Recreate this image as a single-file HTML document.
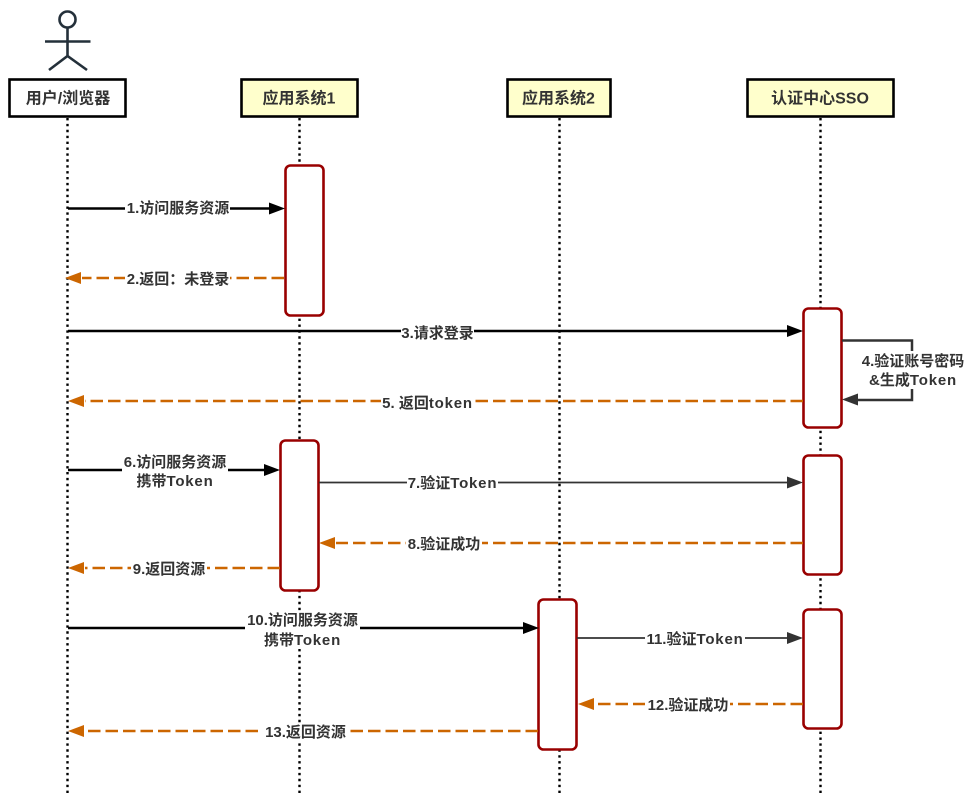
<!DOCTYPE html>
<html lang="zh">
<head>
<meta charset="utf-8">
<title>SSO 时序图</title>
<style>
html,body{margin:0;padding:0;background:#fff;width:974px;height:807px;overflow:hidden}
svg{display:block}
text{font-family:"Liberation Sans","Noto Sans CJK SC",sans-serif;font-weight:bold;font-size:15px;fill:#333;text-anchor:middle}
text.h{font-size:16px}
tspan.w{letter-spacing:.8px}
.life{stroke:#000;stroke-width:2.4;stroke-dasharray:2.4 3.5;fill:none}
.box{stroke:#000;stroke-width:2.6;fill:#ffc}
.act{stroke:#990000;stroke-width:2.6;fill:#fff}
.blk{stroke:#000;stroke-width:2.5;fill:none}
.gry{stroke:#333;stroke-width:1.8;fill:none}
.org{stroke:#CC6600;stroke-width:2.5;stroke-dasharray:12.5 5;fill:none}
.hb{fill:#000}.hg{fill:#333}.ho{fill:#CC6600}
</style>
</head>
<body>
<svg width="974" height="807" viewBox="0 0 974 807" xmlns="http://www.w3.org/2000/svg">
<rect width="974" height="807" fill="#fff"/>

<!-- actor -->
<g stroke="#24303a" stroke-width="2.6" fill="none">
<circle cx="67.5" cy="19.5" r="8"/>
<path d="M67.5 27.5V56M45 41.5H90.5M49 70L67.5 56L87 70"/>
</g>

<!-- lifelines -->
<path class="life" d="M67.5 118V795"/>
<path class="life" d="M299.5 118V795"/>
<path class="life" d="M559.5 118V795"/>
<path class="life" d="M820.5 118V795"/>

<!-- header boxes -->
<rect class="box" x="9.5" y="79.5" width="116" height="37" style="fill:#fff"/>
<rect class="box" x="241.5" y="79.5" width="116" height="37"/>
<rect class="box" x="507.5" y="79.5" width="103" height="37"/>
<rect class="box" x="747.5" y="79.5" width="146" height="37"/>
<text class="h" x="68" y="103.500">用户/浏览器</text>
<text class="h" x="299" y="103.500">应用系统1</text>
<text class="h" x="558.500" y="103.500">应用系统2</text>
<text class="h" x="820" y="103.500">认证中心SSO</text>

<!-- activations -->
<rect class="act" x="285.5" y="165.5" width="38" height="150" rx="5"/>
<rect class="act" x="803.5" y="308.5" width="38" height="119" rx="5"/>
<rect class="act" x="280.5" y="440.5" width="38" height="150" rx="5"/>
<rect class="act" x="803.5" y="455.5" width="38" height="119" rx="5"/>
<rect class="act" x="538.5" y="599.5" width="38" height="150" rx="5"/>
<rect class="act" x="803.5" y="609.5" width="38" height="119" rx="5"/>

<!-- 1 -->
<path class="blk" d="M68 208.500H270"/><polygon class="hb" points="285,208.500 269,202.500 269,214.500"/>
<rect x="125" y="200" width="105" height="17" fill="#fff"/>
<text x="178" y="213">1.访问服务资源</text>

<!-- 2 -->
<path class="org" d="M284 278H82"/><polygon class="ho" points="65,278 81,272 81,284"/>
<rect x="125" y="270" width="105" height="17" fill="#fff"/>
<text x="178" y="284">2.返回：未登录</text>

<!-- 3 -->
<path class="blk" d="M68 331H788"/><polygon class="hb" points="803,331 787,325 787,337"/>
<rect x="401" y="323" width="73" height="17" fill="#fff"/>
<text x="437.500" y="338">3.请求登录</text>

<!-- 4 self -->
<path d="M842 340.500H912V400H858" stroke="#333" stroke-width="2.500" fill="none"/>
<polygon class="hg" points="842,399.500 858,393.500 858,405.500"/>
<rect x="859" y="351" width="108" height="38" fill="#fff"/>
<text x="913" y="366">4.验证账号密码</text>
<text x="913" y="385">&amp;生成<tspan class="w">Token</tspan></text>

<!-- 5 -->
<path class="org" d="M803 401H85"/><polygon class="ho" points="68,401 84,395 84,407"/>
<rect x="381" y="394" width="93" height="17" fill="#fff"/>
<text x="427.500" y="408">5. 返回<tspan class="w">token</tspan></text>

<!-- 6 -->
<path class="blk" d="M68 470H265"/><polygon class="hb" points="280,470 264,464 264,476"/>
<rect x="122" y="454" width="106" height="34" fill="#fff"/>
<text x="175" y="467">6.访问服务资源</text>
<text x="175" y="486">携带<tspan class="w">Token</tspan></text>

<!-- 7 -->
<path class="gry" d="M319 482.500H788"/><polygon class="hg" points="803,482.500 787,476.500 787,488.500"/>
<rect x="407" y="475" width="91" height="17" fill="#fff"/>
<text x="452.500" y="488">7.验证<tspan class="w">Token</tspan></text>

<!-- 8 -->
<path class="org" d="M803 543H336"/><polygon class="ho" points="319,543 335,537 335,549"/>
<rect x="406" y="536" width="76" height="17" fill="#fff"/>
<text x="444" y="549">8.验证成功</text>

<!-- 9 -->
<path class="org" d="M280 568H85"/><polygon class="ho" points="68,568 84,562 84,574"/>
<rect x="131" y="561" width="76" height="17" fill="#fff"/>
<text x="169" y="574">9.返回资源</text>

<!-- 10 -->
<path class="blk" d="M68 628H524"/><polygon class="hb" points="539,628 523,622 523,634"/>
<rect x="245" y="612" width="115" height="34" fill="#fff"/>
<text x="302.500" y="625">10.访问服务资源</text>
<text x="302.500" y="645">携带<tspan class="w">Token</tspan></text>

<!-- 11 -->
<path class="gry" d="M577 638H788"/><polygon class="hg" points="803,638 787,632 787,644"/>
<rect x="645" y="630" width="100" height="17" fill="#fff"/>
<text x="695" y="644">11.验证<tspan class="w">Token</tspan></text>

<!-- 12 -->
<path class="org" d="M803 704H594"/><polygon class="ho" points="578,704 594,698 594,710"/>
<rect x="645" y="696" width="85" height="17" fill="#fff"/>
<text x="688" y="710">12.验证成功</text>

<!-- 13 -->
<path class="org" d="M538 731H85"/><polygon class="ho" points="68,731 84,725 84,737"/>
<rect x="263" y="723" width="85" height="17" fill="#fff"/>
<text x="305.500" y="737">13.返回资源</text>
</svg>
</body>
</html>
